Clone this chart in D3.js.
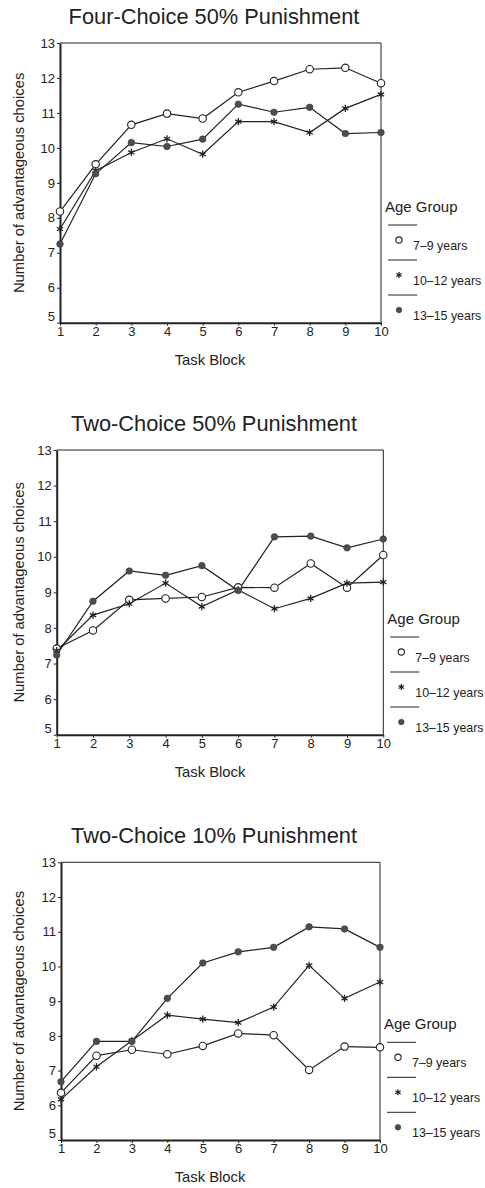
<!DOCTYPE html>
<html>
<head>
<meta charset="utf-8">
<script src="https://cdn.jsdelivr.net/npm/d3@7"></script>
<style>
  html, body { margin: 0; padding: 0; background: #fff; }
  svg { display: block; font-family: "Liberation Sans", Arial, Helvetica, sans-serif; }
</style>
</head>
<body>
<svg id="chart" width="485" height="1188"></svg>
<script>
// Task blocks on the x axis
const blocks = [1, 2, 3, 4, 5, 6, 7, 8, 9, 10];
const yTicks = [5, 6, 7, 8, 9, 10, 11, 12, 13];
const ageGroups = ["7\u20139 years", "10\u201312 years", "13\u201315 years"];
const titles = ["Four-Choice 50% Punishment", "Two-Choice 50% Punishment", "Two-Choice 10% Punishment"];

// Mean number of advantageous choices per block, per age group
const fourChoice50_age7to9   = [8.18, 9.53, 10.66, 10.98, 10.84, 11.59, 11.91, 12.25, 12.29, 11.85];
const fourChoice50_age10to12 = [7.68, 9.35, 9.87, 10.26, 9.82, 10.75, 10.75, 10.44, 11.13, 11.53];
const fourChoice50_age13to15 = [7.25, 9.26, 10.15, 10.04, 10.25, 11.25, 11.02, 11.16, 10.41, 10.44];

const twoChoice50_age7to9   = [7.42, 7.93, 8.79, 8.83, 8.87, 9.14, 9.13, 9.81, 9.13, 10.05];
const twoChoice50_age10to12 = [7.36, 8.36, 8.68, 9.26, 8.60, 9.07, 8.54, 8.83, 9.26, 9.29];
const twoChoice50_age13to15 = [7.24, 8.75, 9.60, 9.48, 9.75, 9.05, 10.56, 10.58, 10.25, 10.50];

const twoChoice10_age7to9   = [6.36, 7.43, 7.60, 7.47, 7.71, 8.07, 8.02, 7.02, 7.69, 7.67];
const twoChoice10_age10to12 = [6.17, 7.11, 7.86, 8.60, 8.48, 8.38, 8.83, 10.03, 9.08, 9.55];
const twoChoice10_age13to15 = [6.68, 7.84, 7.84, 9.08, 10.10, 10.42, 10.55, 11.14, 11.08, 10.55];

const panelSeries = [
  [fourChoice50_age7to9, fourChoice50_age10to12, fourChoice50_age13to15],
  [twoChoice50_age7to9, twoChoice50_age10to12, twoChoice50_age13to15],
  [twoChoice10_age7to9, twoChoice10_age10to12, twoChoice10_age13to15]
];

// Plot frames for the three stacked panels
const frames = [
  { left: 60,   right: 381,   top: 43,    bottom: 322.7 },
  { left: 56.7, right: 383.3, top: 450,   bottom: 734.7 },
  { left: 61,   right: 380,   top: 862.3, bottom: 1140 }
];

const ink = "#222";
const dotFill = "#4d4d4d";
const svg = d3.select("#chart");

// Marker drawing: 0 = open circle, 1 = asterisk, 2 = filled dot
function drawMarker(g, kind, cx, cy, s) {
  if (kind === 0) {
    g.append("circle").attr("cx", cx).attr("cy", cy).attr("r", 3.7 * s)
      .attr("fill", "#fff").attr("stroke", ink).attr("stroke-width", 1.1);
  } else if (kind === 1) {
    const r = 3.6 * s;
    [0, 60, 120].forEach(a => {
      const rad = (a + 90) * Math.PI / 180;
      g.append("line")
        .attr("x1", cx + r * Math.cos(rad)).attr("y1", cy + r * Math.sin(rad))
        .attr("x2", cx - r * Math.cos(rad)).attr("y2", cy - r * Math.sin(rad))
        .attr("stroke", ink).attr("stroke-width", 1.3);
    });
  } else {
    g.append("circle").attr("cx", cx).attr("cy", cy).attr("r", 3.3 * s)
      .attr("fill", dotFill).attr("stroke", "#3a3a3a").attr("stroke-width", 0.6);
  }
}

frames.forEach((f, pi) => {
  const g = svg.append("g");
  const x = d3.scaleLinear().domain([1, 10]).range([f.left, f.right]);
  const y = d3.scaleLinear().domain([5, 13]).range([f.bottom, f.top]);

  // Title
  g.append("text")
    .attr("x", 214).attr("y", f.top - 19)
    .attr("text-anchor", "middle")
    .attr("font-size", 21.8).attr("fill", ink)
    .text(titles[pi]);

  // Thin top and right frame
  g.append("line").attr("x1", f.left).attr("x2", f.right).attr("y1", f.top).attr("y2", f.top)
    .attr("stroke", ink).attr("stroke-width", 1);
  g.append("line").attr("x1", f.right).attr("x2", f.right).attr("y1", f.top).attr("y2", f.bottom)
    .attr("stroke", ink).attr("stroke-width", 1);

  // Y axis
  const yAxis = g.append("g").attr("transform", `translate(${f.left},0)`)
    .call(d3.axisLeft(y).tickValues(yTicks).tickSize(3).tickPadding(2).tickSizeOuter(0));
  yAxis.select(".domain").attr("stroke", ink).attr("stroke-width", 2);
  yAxis.selectAll(".tick line").attr("stroke", ink);
  yAxis.selectAll(".tick text").attr("font-size", 13).attr("fill", ink)
    .attr("font-family", "'Liberation Sans', Arial, sans-serif")
    .attr("dy", d => d === 5 ? "-0.18em" : "0.32em");

  // X axis
  const xAxis = g.append("g").attr("transform", `translate(0,${f.bottom})`)
    .call(d3.axisBottom(x).tickValues(blocks).tickSize(3).tickPadding(1).tickSizeOuter(0));
  xAxis.select(".domain").attr("stroke", ink).attr("stroke-width", 2);
  xAxis.selectAll(".tick line").attr("stroke", ink);
  xAxis.selectAll(".tick text").attr("font-size", 13).attr("fill", ink)
    .attr("font-family", "'Liberation Sans', Arial, sans-serif");

  // Axis titles
  g.append("text")
    .attr("x", 210).attr("y", f.bottom + 42)
    .attr("text-anchor", "middle").attr("font-size", 14.8).attr("fill", ink)
    .text("Task Block");
  g.append("text")
    .attr("transform", `translate(24,${(f.top + f.bottom) / 2}) rotate(-90)`)
    .attr("text-anchor", "middle").attr("font-size", 14.8).attr("fill", ink)
    .text("Number of advantageous choices");

  // Series lines and markers
  const line = d3.line().x((d, i) => x(blocks[i])).y(d => y(d));
  panelSeries[pi].forEach(vals => {
    g.append("path").datum(vals).attr("d", line)
      .attr("fill", "none").attr("stroke", ink).attr("stroke-width", 1.2);
  });
  panelSeries[pi].forEach((vals, si) => {
    vals.forEach((v, i) => drawMarker(g, si, x(blocks[i]), y(v), 1));
  });

  // Legend
  const lx = f.right;
  g.append("text")
    .attr("x", lx + 4).attr("y", f.bottom - 111)
    .attr("font-size", 15).attr("fill", ink)
    .text("Age Group");
  ageGroups.forEach((name, si) => {
    const ly = f.bottom - 97.7 + si * 35;
    g.append("line").attr("x1", lx + 7).attr("x2", lx + 36).attr("y1", ly).attr("y2", ly)
      .attr("stroke", ink).attr("stroke-width", 1);
    drawMarker(g, si, lx + 18, ly + 15, 0.85);
    g.append("text")
      .attr("x", lx + 32).attr("y", ly + 25)
      .attr("font-size", 12.4).attr("fill", ink)
      .text(name);
  });
});
</script>
</body>
</html>
